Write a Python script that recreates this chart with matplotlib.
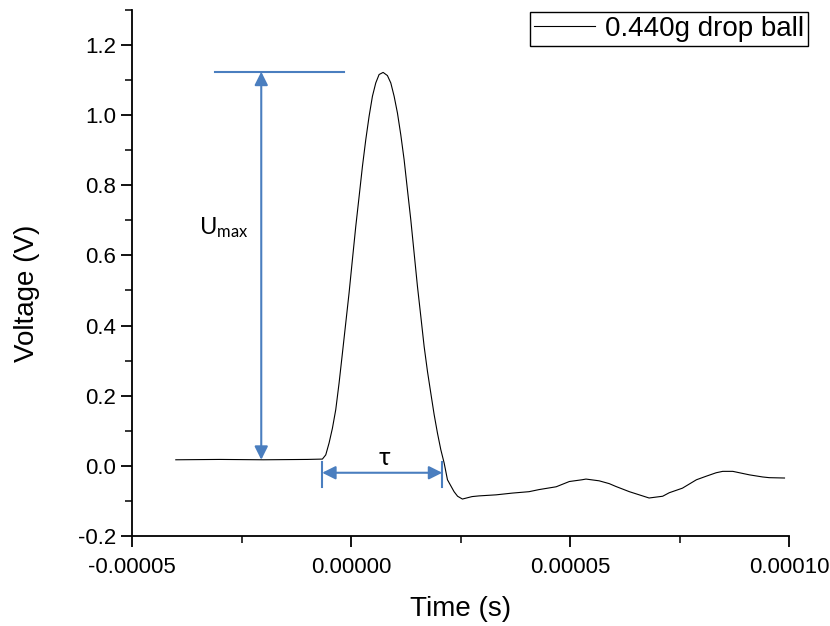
import matplotlib.pyplot as plt
import numpy as np
from matplotlib.ticker import MultipleLocator, FormatStrFormatter

plt.rcParams['font.family'] = ['Liberation Sans', 'DejaVu Sans']

# waveform (time in microseconds, voltage in V)
time_us = [-40.0, -30.0, -20.0, -10.0, -6.55, -5.78, -5.02, -4.26, -3.50, -2.74,
           -1.98, -1.22, -0.46, 0.30, 1.07, 1.83, 2.59, 3.35, 4.11, 4.87,
           5.63, 6.39, 7.31, 8.29, 9.06, 9.82, 10.58, 11.34, 12.10, 12.86,
           13.62, 14.38, 15.14, 15.91, 16.67, 17.43, 18.19, 18.95, 19.71, 20.47,
           21.23, 21.99, 23.5, 24.3, 25.4, 27.6, 29.2, 33.1, 36.8, 40.6,
           42.9, 46.8, 49.8, 52.7, 53.6, 56.6, 58.9, 60.4, 63.5, 65.0,
           68.0, 71.1, 72.6, 75.6, 78.8, 81.0, 83.3, 84.8, 87.1, 90.9,
           93.9, 95.4, 98.9]
voltage = [0.017, 0.018, 0.017, 0.018, 0.019, 0.031, 0.065, 0.107, 0.160, 0.236,
           0.321, 0.407, 0.493, 0.588, 0.683, 0.768, 0.854, 0.930, 0.997, 1.054,
           1.092, 1.116, 1.122, 1.113, 1.092, 1.054, 1.006, 0.944, 0.873, 0.787,
           0.702, 0.607, 0.512, 0.426, 0.340, 0.269, 0.207, 0.146, 0.093, 0.046,
           0.008, -0.040, -0.074, -0.087, -0.095, -0.088, -0.086, -0.083, -0.078, -0.074,
           -0.068, -0.060, -0.045, -0.040, -0.038, -0.043, -0.051, -0.059, -0.074, -0.080,
           -0.092, -0.087, -0.077, -0.064, -0.040, -0.030, -0.020, -0.016, -0.016, -0.026,
           -0.032, -0.034, -0.035]
series_label = '0.440g drop ball'

# annotation values
u_top = 1.124
u_base = 0.017
tau_start = -6.6e-6
tau_end = 20.8e-6

blue = '#4a7ebf'

time_s = np.array(time_us) * 1e-6

fig = plt.figure(figsize=(8.3, 6.26), dpi=100)
ax = fig.add_axes([0.159, 0.144, 0.792, 0.84])

ax.plot(time_s, voltage, color='black', lw=0.8, label=series_label)

ax.set_xlim(-0.00005, 0.0001)
ax.set_ylim(-0.2, 1.3)
ax.xaxis.set_major_locator(MultipleLocator(0.00005))
ax.xaxis.set_minor_locator(MultipleLocator(0.000025))
ax.xaxis.set_major_formatter(FormatStrFormatter('%.5f'))
ax.yaxis.set_major_locator(MultipleLocator(0.2))
ax.yaxis.set_minor_locator(MultipleLocator(0.1))
ax.yaxis.set_major_formatter(FormatStrFormatter('%.1f'))

for s in ['top', 'right']:
    ax.spines[s].set_visible(False)
for s in ['left', 'bottom']:
    ax.spines[s].set_linewidth(1.3)
ax.tick_params(which='major', direction='out', length=8, width=1.3, labelsize=16)
ax.tick_params(which='minor', direction='out', length=5, width=1.1)
ax.tick_params(axis='x', which='major', pad=7)

ax.set_xlabel('Time (s)', fontsize=20, labelpad=13)
ax.set_ylabel('Voltage (V)', fontsize=20, labelpad=27)
ax.yaxis.label.set_y(0.462)

# Umax annotation
ax.plot([-3.1e-5, -1.6e-6], [u_top, u_top], color=blue, lw=1.5)
ax.annotate('', xy=(-2.05e-5, u_top), xytext=(-2.05e-5, u_base),
            arrowprops=dict(arrowstyle='<|-|>', color=blue, lw=1.5,
                            mutation_scale=20, shrinkA=0, shrinkB=0))
ax.text(-3.47e-5, 0.68, r'$\mathregular{U_{max}}$', fontsize=17,
        family=['Lato', 'DejaVu Sans'], ha='left', va='center')

# tau annotation
for xv in [tau_start, tau_end]:
    ax.plot([xv, xv], [0.012, -0.06], color=blue, lw=1.5)
ax.annotate('', xy=(tau_start, -0.02), xytext=(tau_end, -0.02),
            arrowprops=dict(arrowstyle='<|-|>', color=blue, lw=1.5,
                            mutation_scale=20, shrinkA=0, shrinkB=0))
ax.text(7.5e-6, -0.008, 'τ', fontsize=18, family=['Lato', 'DejaVu Sans'],
        ha='center', va='bottom')

leg = ax.legend(loc='upper right', bbox_to_anchor=(808 / 830, 1 - 12 / 626),
                bbox_transform=fig.transFigure, borderaxespad=0, fontsize=20,
                fancybox=False, framealpha=1, edgecolor='black',
                handlelength=2.2, handletextpad=0.35, borderpad=0.15)
leg.get_frame().set_linewidth(1.0)

fig.savefig('out.png', dpi=100)
